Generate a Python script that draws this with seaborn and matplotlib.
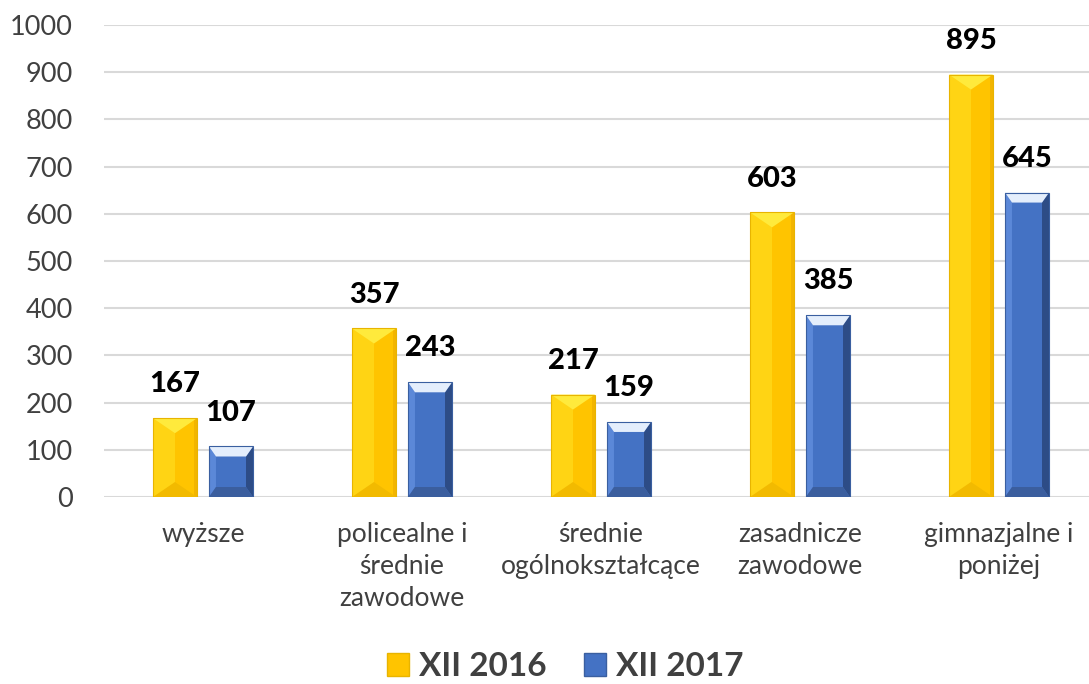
import numpy as np
import pandas as pd
import matplotlib
matplotlib.use("Agg")
import matplotlib.pyplot as plt
from matplotlib.patches import Polygon, Patch
import seaborn as sns

categories = ["wyższe", "policealne i\nśrednie\nzawodowe", "średnie\nogólnokształcące",
              "zasadnicze\nzawodowe", "gimnazjalne i\nponiżej"]
series_names = ["XII 2016", "XII 2017"]
values_2016 = [167, 357, 217, 603, 895]
values_2017 = [107, 243, 159, 385, 645]
yticks = [0, 100, 200, 300, 400, 500, 600, 700, 800, 900, 1000]

df = pd.DataFrame({
    "kategoria": categories * 2,
    "seria": [series_names[0]] * len(categories) + [series_names[1]] * len(categories),
    "wartosc": values_2016 + values_2017,
})

sns.set_theme(style="white")
plt.rcParams["font.family"] = ["Lato", "DejaVu Sans"]

W, H = 1089, 684
fig = plt.figure(figsize=(W / 100, H / 100), dpi=100)
ax_left, ax_right = 103.5, 1098.5
ax_top, ax_bot = 25, 497
ax = fig.add_axes([ax_left / W, 1 - ax_bot / H, (ax_right - ax_left) / W, (ax_bot - ax_top) / H])

yellow = "#FFC400"
blue = "#4472C4"
sns.barplot(data=df, x="kategoria", y="wartosc", hue="seria", palette=[yellow, blue],
            width=0.563, gap=0.214, ax=ax, legend=False, linewidth=0, saturation=1)

ax.set_ylim(0, 1000)
ax.set_xlim(-0.5, len(categories) - 0.5)
ax.set_yticks(yticks)
ax.set_xlabel("")
ax.set_ylabel("")
for s in ax.spines.values():
    s.set_visible(False)
ax.grid(axis="y", color="#D9D9D9", linewidth=1.5)
ax.set_axisbelow(True)
ax.tick_params(axis="y", length=0, pad=22, labelsize=19.5, labelcolor="#404040")
ax.tick_params(axis="x", length=0, pad=18, labelsize=19, labelcolor="#404040")
for t in ax.get_xticklabels():
    t.set_linespacing(1.35)

# pixel -> data factors
px_x = 1.0 * len(categories) / (ax_right - ax_left)
px_y = 1000.0 / (ax_bot - ax_top)

shades = {
    0: dict(left="#FFD414", right="#F2B500", top="#FFEA3C", bottom="#F2BA00", edge="#E8B400"),
    1: dict(left="#5B88D8", right="#2D4C86", top="#E4EEFC", bottom="#3B5E9E", edge="#3A5FA0"),
}
for si, cont in enumerate(ax.containers):
    sh = shades[si]
    for bar in cont:
        x0, y0 = bar.get_x(), bar.get_y()
        w, h = bar.get_width(), bar.get_height()
        x1, y1 = x0 + w, y0 + h
        bx = 7 * px_x
        if si == 0:
            ax.add_patch(Polygon([(x0, y0), (x0 + w / 2, y0), (x0 + w / 2, y1), (x0, y1)],
                                 closed=True, color=sh["left"], lw=0, zorder=3))
            ax.add_patch(Polygon([(x1 - 3 * px_x, y0), (x1, y0), (x1, y1), (x1 - 3 * px_x, y1)],
                                 closed=True, color=sh["right"], lw=0, zorder=3))
            d = min(15 * px_y, h / 2)
            ax.add_patch(Polygon([(x0, y1), (x1, y1), (x0 + w / 2, y1 - d)],
                                 closed=True, color=sh["top"], lw=0, zorder=4))
            ax.add_patch(Polygon([(x0, y0), (x1, y0), (x0 + w / 2, y0 + d)],
                                 closed=True, color=sh["bottom"], lw=0, zorder=4))
        else:
            by = 10 * px_y
            ax.add_patch(Polygon([(x0, y0), (x0 + bx, y0 + by), (x0 + bx, y1 - by), (x0, y1)],
                                 closed=True, color=sh["left"], lw=0, zorder=3))
            ax.add_patch(Polygon([(x1, y0), (x1 - bx, y0 + by), (x1 - bx, y1 - by), (x1, y1)],
                                 closed=True, color=sh["right"], lw=0, zorder=3))
            ax.add_patch(Polygon([(x0, y1), (x1, y1), (x1 - bx, y1 - by), (x0 + bx, y1 - by)],
                                 closed=True, color=sh["top"], lw=0, zorder=4))
            ax.add_patch(Polygon([(x0, y0), (x1, y0), (x1 - bx, y0 + by), (x0 + bx, y0 + by)],
                                 closed=True, color=sh["bottom"], lw=0, zorder=4))
        ax.add_patch(Polygon([(x0, y0), (x1, y0), (x1, y1), (x0, y1)], closed=True,
                             fill=False, edgecolor=sh["edge"], lw=0.8, zorder=5))
    ax.bar_label(cont, labels=[str(int(v)) for v in cont.datavalues], padding=15,
                 fontsize=21, fontweight="black", color="black")

handles = [Patch(facecolor=yellow, edgecolor="#E8B400"), Patch(facecolor=blue, edgecolor="#3A5FA0")]
fig.legend(handles, series_names, loc="lower center", bbox_to_anchor=(0.519, -0.04), ncol=2,
           frameon=False, prop=dict(size=24, weight="bold"), labelcolor="#404040",
           handlelength=0.68, handleheight=0.68, handletextpad=0.3, columnspacing=1.1)

fig.savefig("out.png", dpi=100)
